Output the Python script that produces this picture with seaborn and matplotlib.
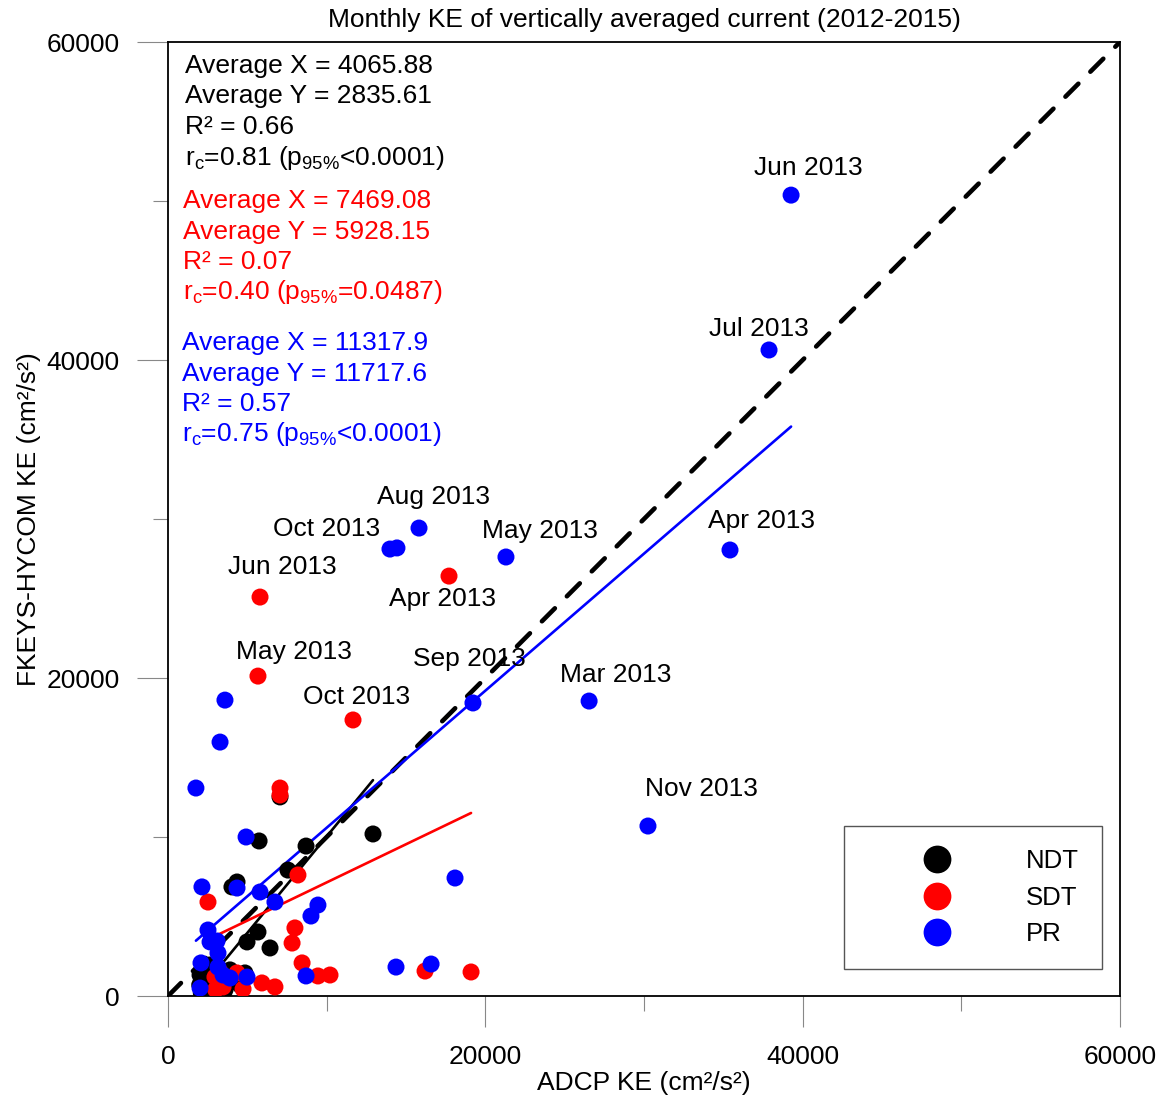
import numpy as np
import pandas as pd
import seaborn as sns
import matplotlib
matplotlib.use("Agg")
import matplotlib.pyplot as plt
from matplotlib.lines import Line2D
from matplotlib.ticker import MultipleLocator

# Monthly kinetic energy of the vertically averaged current (cm^2/s^2)
# x: ADCP observation, y: FKEYS-HYCOM model
ndt_adcp = [7060, 5740, 12920, 8700, 7560, 4350, 4030, 5670, 4980, 6430, 4850, 2330,
            2460, 2140, 2960, 3590, 2770, 3910, 3280, 4540, 2020, 2650, 2200, 2400,
            2100, 2600, 2900, 2300, 3100, 2500, 2000, 3400]
ndt_hycom = [12520, 9750, 10190, 9430, 7920, 7170, 6860, 4025, 3400, 3020, 1450, 1190,
             380, 820, 690, 380, 250, 1640, 1010, 690, 1320, 1950, 450, 600,
             200, 900, 350, 1500, 500, 150, 700, 800]

sdt_adcp = [5800, 5670, 11660, 17710, 7060, 7060, 2520, 8190, 8000, 7820, 8450, 9450,
            10210, 16200, 19100, 6740, 5920, 4730, 4350, 3470, 3280, 2960, 3000, 3200]
sdt_hycom = [25090, 20120, 17360, 26410, 13080, 12640, 5910, 7610, 4280, 3330, 2080, 1260,
             1320, 1570, 1510, 570, 820, 440, 1450, 570, 1510, 1190, 400, 900]
sdt_labels = ["Jun 2013", "May 2013", "Oct 2013", "Apr 2013"]

pr_adcp = [39270, 37880, 35420, 26540, 30250, 15820, 13990, 21300, 19220, 14430,
           3590, 3280, 1760, 4920, 18090, 9450, 9010, 6740, 5800, 4350, 2140, 2520,
           2650, 3090, 3150, 2080, 3150, 3470, 3910, 4980, 8700, 2020, 14370, 16580]
pr_hycom = [50370, 40630, 28050, 18550, 10690, 29430, 28110, 27610, 18430, 28180,
            18610, 15970, 13080, 10000, 7420, 5720, 5030, 5910, 6540, 6790, 6860, 4150,
            3400, 3460, 2700, 2080, 1820, 1320, 1130, 1190, 1260, 500, 1820, 2010]
pr_labels = ["Jun 2013", "Jul 2013", "Apr 2013", "Mar 2013", "Nov 2013",
             "Aug 2013", "Oct 2013", "May 2013", "Sep 2013"]

groups = ["NDT", "SDT", "PR"]
avg_x = ["4065.88", "7469.08", "11317.9"]
avg_y = ["2835.61", "5928.15", "11717.6"]
r_squared = ["0.66", "0.07", "0.57"]
r_c = ["0.81", "0.40", "0.75"]
p_text = ["<0.0001", "=0.0487", "<0.0001"]
fit_slope = [1.213, 0.48, 0.862]

colors = {"NDT": "#000000", "SDT": "#ff0000", "PR": "#0000ff"}

df = pd.concat([
    pd.DataFrame({"adcp": ndt_adcp, "hycom": ndt_hycom, "group": "NDT"}),
    pd.DataFrame({"adcp": sdt_adcp, "hycom": sdt_hycom, "group": "SDT"}),
    pd.DataFrame({"adcp": pr_adcp, "hycom": pr_hycom, "group": "PR"}),
], ignore_index=True)

sns.set_theme(style="white")
plt.rcParams["font.family"] = ["Liberation Sans", "DejaVu Sans"]
plt.rcParams["mathtext.fontset"] = "custom"
plt.rcParams["mathtext.rm"] = "Liberation Sans"
plt.rcParams["mathtext.it"] = "Liberation Sans:italic"
plt.rcParams["mathtext.default"] = "regular"
plt.rcParams["text.color"] = "black"
plt.rcParams["axes.labelcolor"] = "black"

FS = 19

fig = plt.figure(figsize=(11.64, 11.03), dpi=100)
ax = fig.add_axes([168 / 1164, 1 - 996 / 1103, 952 / 1164, 954 / 1103])

# 1:1 reference line
ref = np.array([0, 60000])
ax.plot(ref, ref, color="black", lw=3.3, dashes=(4, 3.7), dash_capstyle="round", zorder=1)

sns.scatterplot(data=df, x="adcp", y="hycom", hue="group", hue_order=groups,
                palette=colors, s=150, edgecolor="none", linewidth=0,
                legend=False, ax=ax, zorder=3)

# least-squares lines through the group means, spanning each group's range
for g, mx, my, b in zip(groups, avg_x, avg_y, fit_slope):
    sub = df[df.group == g]
    xs = np.array([sub.adcp.min(), sub.adcp.max()])
    ax.plot(xs, float(my) + b * (xs - float(mx)), color=colors[g], lw=1.9, zorder=2)

# month annotations (offsets in pixels: text centre / baseline relative to point)
pr_offsets = [(17, 20), (-10, 14), (32, 22), (27, 19), (53, 30),
              (14, 24), (-63, 13), (34, 19), (-4, 37)]
sdt_offsets = [(22, 23), (36, 17), (4, 16), (-6, -30)]
for lab, xv, yv, off in zip(pr_labels, pr_adcp, pr_hycom, pr_offsets):
    ax.annotate(lab, (xv, yv), xytext=off, textcoords="offset pixels",
                ha="center", va="baseline", fontsize=FS, color="black", zorder=4)
for lab, xv, yv, off in zip(sdt_labels, sdt_adcp, sdt_hycom, sdt_offsets):
    ax.annotate(lab, (xv, yv), xytext=off, textcoords="offset pixels",
                ha="center", va="baseline", fontsize=FS, color="black", zorder=4)

# statistics blocks
block_top = [73, 208, 350]
block_left = [185, 183, 182]
for i, g in enumerate(groups):
    lines = [f"Average X = {avg_x[i]}",
             f"Average Y = {avg_y[i]}",
             f"R\u00b2 = {r_squared[i]}",
             r"r$_{c}$=" + r_c[i] + r" (p$_{95\%}$" + p_text[i] + ")"]
    for k, t in enumerate(lines):
        ypx = block_top[i] + k * 30.5
        ax.text((block_left[i] - 168) / 952, (996 - ypx) / 954, t, transform=ax.transAxes,
                ha="left", va="baseline", fontsize=FS, color=colors[g])

ax.set_xlim(0, 60000)
ax.set_ylim(0, 60000)
ax.xaxis.set_major_locator(MultipleLocator(20000))
ax.xaxis.set_minor_locator(MultipleLocator(10000))
ax.yaxis.set_major_locator(MultipleLocator(20000))
ax.yaxis.set_minor_locator(MultipleLocator(10000))
ax.tick_params(which="major", direction="out", length=22, width=0.8, color="#888888",
               labelsize=FS, labelcolor="black", pad=13, bottom=True, left=True)
ax.tick_params(which="minor", direction="out", length=11, width=0.8, color="#888888",
               bottom=True, left=True)

for sp in ax.spines.values():
    sp.set_color("black")
    sp.set_linewidth(1.3)
    sp.set_visible(True)

ax.set_xlabel("ADCP KE (cm\u00b2/s\u00b2)", fontsize=FS, labelpad=2)
ax.set_ylabel("FKEYS-HYCOM KE (cm\u00b2/s\u00b2)", fontsize=FS, labelpad=4)
ax.set_title("Monthly KE of vertically averaged current (2012-2015)", fontsize=19, pad=11)

handles = [Line2D([], [], ls="none", marker="o", markersize=20, color=colors[g],
                  markeredgewidth=0) for g in groups]
leg = ax.legend(handles, groups, loc="lower right", bbox_to_anchor=(0.981, 0.0283),
                borderaxespad=0, fontsize=18.5, borderpad=0.88, handlelength=5.5,
                handletextpad=0.72, labelspacing=0.5, frameon=True, fancybox=False,
                framealpha=1, edgecolor="#555555")
leg.get_frame().set_linewidth(1.0)

fig.savefig("out.png", dpi=100)
